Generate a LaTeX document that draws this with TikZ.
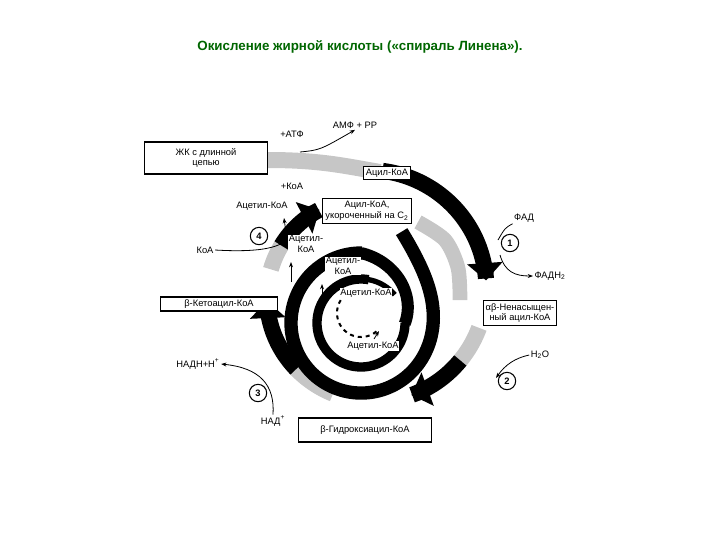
\documentclass[tikz,border=0pt]{standalone}
\usepackage{fontspec}
\setmainfont{Liberation Sans}
\usetikzlibrary{arrows.meta}
\begin{document}
\begin{tikzpicture}[x=0.75pt,y=-0.75pt,
  box/.style={draw,line width=0.8pt,fill=white,font=\fontsize{7}{8}\selectfont,align=center,inner sep=2pt},
  lab/.style={font=\fontsize{7}{8}\selectfont,align=center,inner sep=1pt},
  wlab/.style={lab,fill=white,inner sep=0.5pt},
  num/.style={draw,circle,line width=0.8pt,font=\fontsize{7}{7}\selectfont\bfseries,inner sep=1pt,minimum size=13pt},
  band/.style={line width=12pt},
  stip/.style={line width=12pt,draw=gray!45},
  thin/.style={line width=0.6pt,-{Stealth[length=4pt]}},
  big/.style={-{Triangle[length=13pt,width=26pt]}}]
\useasboundingbox (0,0) rectangle (720,540);
\newcommand\spir[3][]{\draw[#1] plot[domain=#2:#3,samples=80,variable=\u]
 ({372-0.012*\u+(122-0.075*\u)*cos(\u-90)},{292+0.006*\u+(122-0.075*\u)*sin(\u-90)});}
\node[font=\fontsize{10}{12}\selectfont\bfseries,text=green!40!black] (title) at (360,47) {Окисление жирной кислоты («спираль Линена»).};
% outer turn
\draw[stip] (268,160) .. controls (320,160) and (345,166) .. (380,172);
\spir[band,big]{5}{84}
\spir[stip]{108}{128}
\spir[band,big]{127}{158}
\spir[stip]{200}{225}
\spir[band,big]{224}{266}
\spir[stip]{284}{300}
\spir[band,big]{299}{330}
% inner turns
\draw[stip,line width=11pt] plot[smooth] coordinates {(418,222) (445,240) (458,268) (460,300)};
\draw[line width=10pt] plot[domain=-66:271,samples=120,variable=\t]
 ({361+(70+30*exp(-(\t+66)/25))*cos(\t)},{323+(70+30*exp(-(\t+66)/25))*sin(\t)});
\draw[line width=9pt] plot[domain=270:361,samples=40,variable=\t]
 ({361+(70-26*(\t-270)/90)*cos(\t)},{323+(70-26*(\t-270)/90)*sin(\t)});
\draw[line width=7pt] plot[domain=360:640,samples=80,variable=\t]
 ({361+44*cos(\t)},{323+44*sin(\t)});
\draw[line width=4pt] plot[domain=639:680,samples=20,variable=\t]
 ({361+44*cos(\t)},{323+44*sin(\t)});
\draw[line width=1.5pt,dashed,-{Stealth[length=5pt]}] plot[domain=50:245,samples=40,variable=\t]
 ({361+24*cos(\t)},{313+24*sin(\t)});
% boxes
\node[box,minimum width=92pt,minimum height=24pt] (zk) at (206,158) {ЖК с длинной\\цепью};
\node[box] (acyl) at (387,173) {Ацил-КоА};
\node[box] (short) at (367,211) {Ацил-КоА,\\укороченный на C\textsubscript{2}};
\node[box] (unsat) at (520,313) {αβ-Ненасыщен-\\ный ацил-КоА};
\node[box,minimum width=88pt] (keto) at (219,304) {β-Кетоацил-КоА};
\node[box,minimum width=100pt,minimum height=18pt] (hydr) at (365,430) {β-Гидроксиацил-КоА};
% labels
\node[lab] (atf) at (292,134) {+АТФ};
\node[lab] (amf) at (355,125) {АМФ + PP};
\node[lab] (koa1) at (292,186) {+КоА};
\coordinate (a1) at (300,152);
\draw[thin] (a1) .. controls (320,150) .. (amf.south);
\node[lab] (ac0) at (262,206) {Ацетил-КоА};
\node[num] (n4) at (259,236) {4};
\node[lab] (koa2) at (205,250) {КоА};
\coordinate (k1) at (287,240);
\draw[line width=0.6pt] (koa2.east) .. controls (250,252) and (275,250) .. (k1);
\draw[thin] (k1) -- (284,218);
\node[wlab] (ac1) at (306,244) {Ацетил-\\КоА};
\node[wlab] (ac2) at (343,266) {Ацетил-\\КоА};
\node[wlab] (ac3) at (366,293) {Ацетил-КоА};
\node[wlab] (ac4) at (373,346) {Ацетил-КоА};
\draw[thin] (291,282) -- (291,262);
\draw[thin] (322,300) -- (322,284);
\draw[thin] (374,339) -- (379,331);
\node[lab] (fad) at (524,218) {ФАД};
\node[num] (n1) at (510,243) {1};
\node[lab] (fadh) at (550,276) {ФАДН\textsubscript{2}};
\draw[line width=0.6pt] (fad.south west) .. controls (505,228) .. (498,240);
\draw[thin] (500,255) .. controls (505,272) and (515,276) .. (fadh.west);
\node[lab] (h2o) at (540,355) {H\textsubscript{2}O};
\node[num] (n2) at (507,381) {2};
\draw[thin] (h2o.west) .. controls (515,358) and (505,365) .. (496,378);
\node[lab] (nadh) at (198,364) {НАДН+Н\textsuperscript{+}};
\node[num] (n3) at (258,393) {3};
\node[lab] (nad) at (273,421) {НАД\textsuperscript{+}};
\draw[thin] (nad.north) .. controls (275,385) and (260,368) .. (nadh.east);
\end{tikzpicture}
\end{document}
